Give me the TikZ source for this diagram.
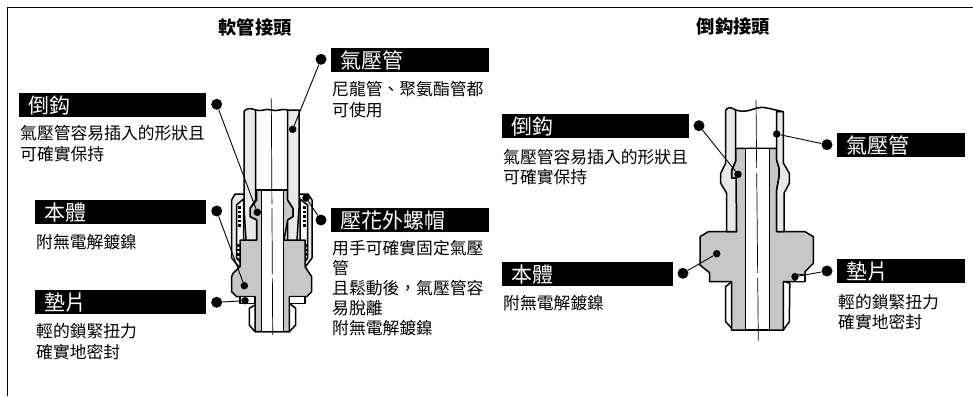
\documentclass[tikz,border=0pt]{standalone}
\usepackage{fontspec}
\setmainfont{Noto Sans CJK TC}
\usetikzlibrary{positioning}
\definecolor{bodygrey}{gray}{0.78}
\definecolor{tubegrey}{gray}{0.91}

\begin{document}
\begin{tikzpicture}[
    x=1pt, y=-1pt,
    bar/.style={fill=black, text=white, anchor=north west, text width=#1pt-19pt, inner xsep=9.5pt, inner ysep=0pt,
        minimum height=24pt, text height=20pt, text depth=3pt, font=\fontsize{21}{21}\selectfont},
    note/.style={align=left, inner sep=0pt, font=\fontsize{16.8}{21}\selectfont},
    heading/.style={inner sep=0pt, font=\fontsize{18.3}{20}\selectfont\bfseries},
    outer/.style={circle, fill=black, inner sep=0pt, minimum size=11pt},
    tipdot/.style={circle, fill=black, inner sep=0pt, minimum size=7.5pt},
    leader/.style={line width=0.9pt},
    wall/.style={line width=1.5pt, line join=round, draw=black},
    axis/.style={line width=0.7pt}
]
    \useasboundingbox (0,0) rectangle (973,396);
    \draw[line width=1.1pt] (7.5,396) -- (7.5,7.5) -- (973,7.5);

    \node[heading] (titleL) at (255,27) {軟管接頭};
    \node[heading] (titleR) at (733.5,27) {倒鈎接頭};

    % left fitting
    \draw[wall, fill=tubegrey] (231.7,200) -- (235,194) -- (308,194) -- (312,200) -- (312,258) -- (306,266) -- (238,266) -- (231.7,258) -- cycle;
    \draw[wall, fill=white] (236.5,205) -- (243.5,199) -- (243.5,240) -- (240,262) -- (236.5,258) -- cycle;
    \draw[wall, fill=white] (307.5,205) -- (300,199) -- (300,240) -- (305,262) -- (307.5,258) -- cycle;
    \draw[line width=3pt, dash pattern=on 2.5pt off 2pt] (239.5,206) -- (239.5,228);
    \draw[line width=3pt, dash pattern=on 2.5pt off 2pt] (304,206) -- (304,228);
    \draw[line width=3pt, dash pattern=on 2.5pt off 2pt] (238.5,244) -- (238.5,258);
    \draw[line width=3pt, dash pattern=on 2.5pt off 2pt] (306,244) -- (306,258);
    \draw[wall, fill=white] (255,305) -- (249.3,308.3) -- (249.3,325) -- (255,331.7) -- (289.3,331.7) -- (295.7,325) -- (295.7,308.3) -- (289.3,303.3) -- cycle;
    \draw[wall, fill=bodygrey] (256.7,190) -- (256.7,200) -- (250,208.3) -- (250,216.7) -- (256.7,220) -- (256.7,240) -- (240,240) -- (240,266.7) -- (233,273.3) -- (231.7,276.7) -- (231.7,291.7) -- (236.7,296.7) -- (255,296.7) -- (255,331.7) -- (289.3,331.7) -- (289.3,296.7) -- (306.7,296.7) -- (311.7,291.7) -- (311.7,276.7) -- (305,266.7) -- (305,240) -- (284,240) -- (287.7,220) -- (293,216.7) -- (293,208.3) -- (287.7,200) -- (287.7,190) -- cycle;
    \draw[wall, fill=tubegrey] (244,111) -- (244,208) -- (246,240) -- (256.7,240) -- (256.7,220) -- (250,216.7) -- (250,208.3) -- (255.7,200) -- (255.7,110) .. controls (250,108) and (248,108) .. (244,111);
    \draw[wall, fill=tubegrey] (299,110) -- (299,208) -- (297,240) -- (287.7,240) -- (287.7,220) -- (293,216.7) -- (293,208.3) -- (287.7,200) -- (287.7,110) -- cycle;
    \draw[wall] (255.7,110) .. controls (262,112) and (266,108) .. (271,110) .. controls (277,112) and (282,108) .. (287.7,110);
    \draw[wall, fill=white] (261.7,190) rectangle (283.3,331.7);
    \draw[wall] (255.7,190) -- (287.7,190);
    \draw[wall, fill=white] (240,296.7) rectangle (255,303.3);
    \draw[wall, fill=white] (289.3,296.7) rectangle (305,303.3);
    \draw[axis, dash pattern=on 106pt off 4pt on 66pt off 4pt on 80pt off 0pt] (271.3,98.3) -- (272.7,335);

    % right fitting
    \draw[wall, fill=white] (731.7,281.7) -- (725.7,286.7) -- (725.7,321.7) -- (733.3,330) -- (783.3,330) -- (789.3,321.7) -- (789.8,283.3) -- (783.3,281) -- cycle;
    \draw[wall, fill=bodygrey] (735.7,148.3) -- (735.7,161) -- (731.7,170) -- (731.7,178) -- (736,178) -- (736.5,231.7) -- (708.3,231.7) -- (700,236.7) -- (700,265) -- (709.5,272.7) -- (709.5,281.7) -- (731.7,281.7) -- (731.7,330) -- (783.3,330) -- (783.3,281.5) -- (805,281.5) -- (805,271.7) -- (813.3,263.3) -- (813.3,236.7) -- (805,231.7) -- (776.7,231.7) -- (776.7,190) -- (779,177) -- (779,168) -- (776.7,160) -- (776.7,148.3) -- cycle;
    \draw[wall, fill=tubegrey] (725.7,110) -- (725.7,163) -- (720.7,173.3) -- (720.7,183.3) -- (726.7,193.3) -- (726.7,231.7) -- (736.5,231.7) -- (736,178) -- (731.7,178) -- (731.7,170) -- (735.7,161) -- (735.7,110) .. controls (732,108) and (729,106) .. (725.7,110);
    \draw[wall, fill=tubegrey] (783.3,111.7) -- (783.3,163) -- (789.3,173.3) -- (789.3,183.3) -- (784,193.3) -- (784,231.7) -- (776.7,231.7) -- (776.7,190) -- (779,177) -- (779,168) -- (776.7,160) -- (776.7,111.7) -- cycle;
    \draw[wall] (735.7,110) .. controls (745,113) and (750,110) .. (757,108) .. controls (763,106) and (770,109) .. (783.3,111.7);
    \draw[wall, fill=white] (745.5,148.3) rectangle (769.3,330);
    \draw[wall] (735.7,148.3) -- (776.7,148.3);
    \draw[wall, fill=white] (795,274.5) rectangle (805,281.5);
    \draw[axis, dash pattern=on 68pt off 5pt on 100pt off 5pt on 80pt off 0pt] (756,100) -- (758.3,340.7);

    % left labels
    \node[bar=187] (barbL) at (19,93) {倒鈎};
    \node[note, below right=8pt and 1pt of barbL.south west] (barbLtext) {氣壓管容易插入的形狀且\\可確實保持};
    \node[bar=171] (bodyL) at (35,200) {本體};
    \node[note, below right=10pt and 1pt of bodyL.south west] (bodyLtext) {附無電解鍍鎳};
    \node[bar=171] (sealL) at (35,290) {墊片};
    \node[note, below right=9pt and 1pt of sealL.south west] (sealLtext) {輕的鎖緊扭力\\確實地密封};
    \node[bar=158] (tubeL) at (331,48) {氣壓管};
    \node[note, below right=9pt and 1pt of tubeL.south west] (tubeLtext) {尼龍管、聚氨酯管都\\可使用};
    \node[bar=158] (nutL) at (331,208) {壓花外螺帽};
    \node[note, below right=8pt and 1pt of nutL.south west, font=\fontsize{16.8}{20}\selectfont] (nutLtext) {用手可確實固定氣壓\\管\\且鬆動後，氣壓管容\\易脫離\\附無電解鍍鎳};

    % right labels
    \node[bar=187] (barbR) at (502,114) {倒鈎};
    \node[note, below right=11pt and 1pt of barbR.south west, font=\fontsize{16.8}{19.5}\selectfont] (barbRtext) {氣壓管容易插入的形狀且\\可確實保持};
    \node[bar=171] (bodyR) at (502,262) {本體};
    \node[note, below right=9pt and 1pt of bodyR.south west] (bodyRtext) {附無電解鍍鎳};
    \node[bar=128] (tubeR) at (837,133) {氣壓管};
    \node[bar=128] (sealR) at (837,259) {墊片};
    \node[note, below right=11pt and 1pt of sealR.south west, font=\fontsize{16.8}{20}\selectfont] (sealRtext) {輕的鎖緊扭力\\確實地密封};

    % dots, left fitting
    \node[outer] (dotTubeL) at (321,59.3) {};
    \node[tipdot] (tipTubeL) at (292.7,129.3) {};
    \node[outer] (dotBarbL) at (216.7,104.3) {};
    \node[tipdot] (tipBarbL) at (257.3,212.3) {};
    \node[outer] (dotBodyL) at (216.7,211) {};
    \node[tipdot] (tipBodyL) at (244.3,285.7) {};
    \node[outer] (dotSealL) at (216.7,302.3) {};
    \node[tipdot] (tipSealL) at (245,300.7) {};
    \node[outer] (dotNutL) at (321,220) {};
    \node[tipdot] (tipNutL) at (306,198) {};

    % dots, right fitting
    \node[outer] (dotBarbR) at (699,125.7) {};
    \node[tipdot] (tipBarbR) at (738,174.3) {};
    \node[outer] (dotTubeR) at (827,144.7) {};
    \node[tipdot] (tipTubeR) at (776.7,134) {};
    \node[outer] (dotBodyR) at (683,273.3) {};
    \node[tipdot] (tipBodyR) at (716.7,253.7) {};
    \node[outer] (dotSealR) at (827,271) {};
    \node[tipdot] (tipSealR) at (795,276.7) {};

    % leaders
    \draw[leader] (dotTubeL) -- (tipTubeL);
    \draw[leader] (dotBarbL) -- (tipBarbL);
    \draw[leader] (dotBodyL) -- (tipBodyL);
    \draw[leader] (dotSealL) -- (tipSealL);
    \draw[leader] (dotNutL) -- (tipNutL);
    \draw[leader] (dotBarbR) -- (tipBarbR);
    \draw[leader] (dotTubeR) -- (tipTubeR);
    \draw[leader] (dotBodyR) -- (tipBodyR);
    \draw[leader] (dotSealR) -- (tipSealR);
\end{tikzpicture}
\end{document}
